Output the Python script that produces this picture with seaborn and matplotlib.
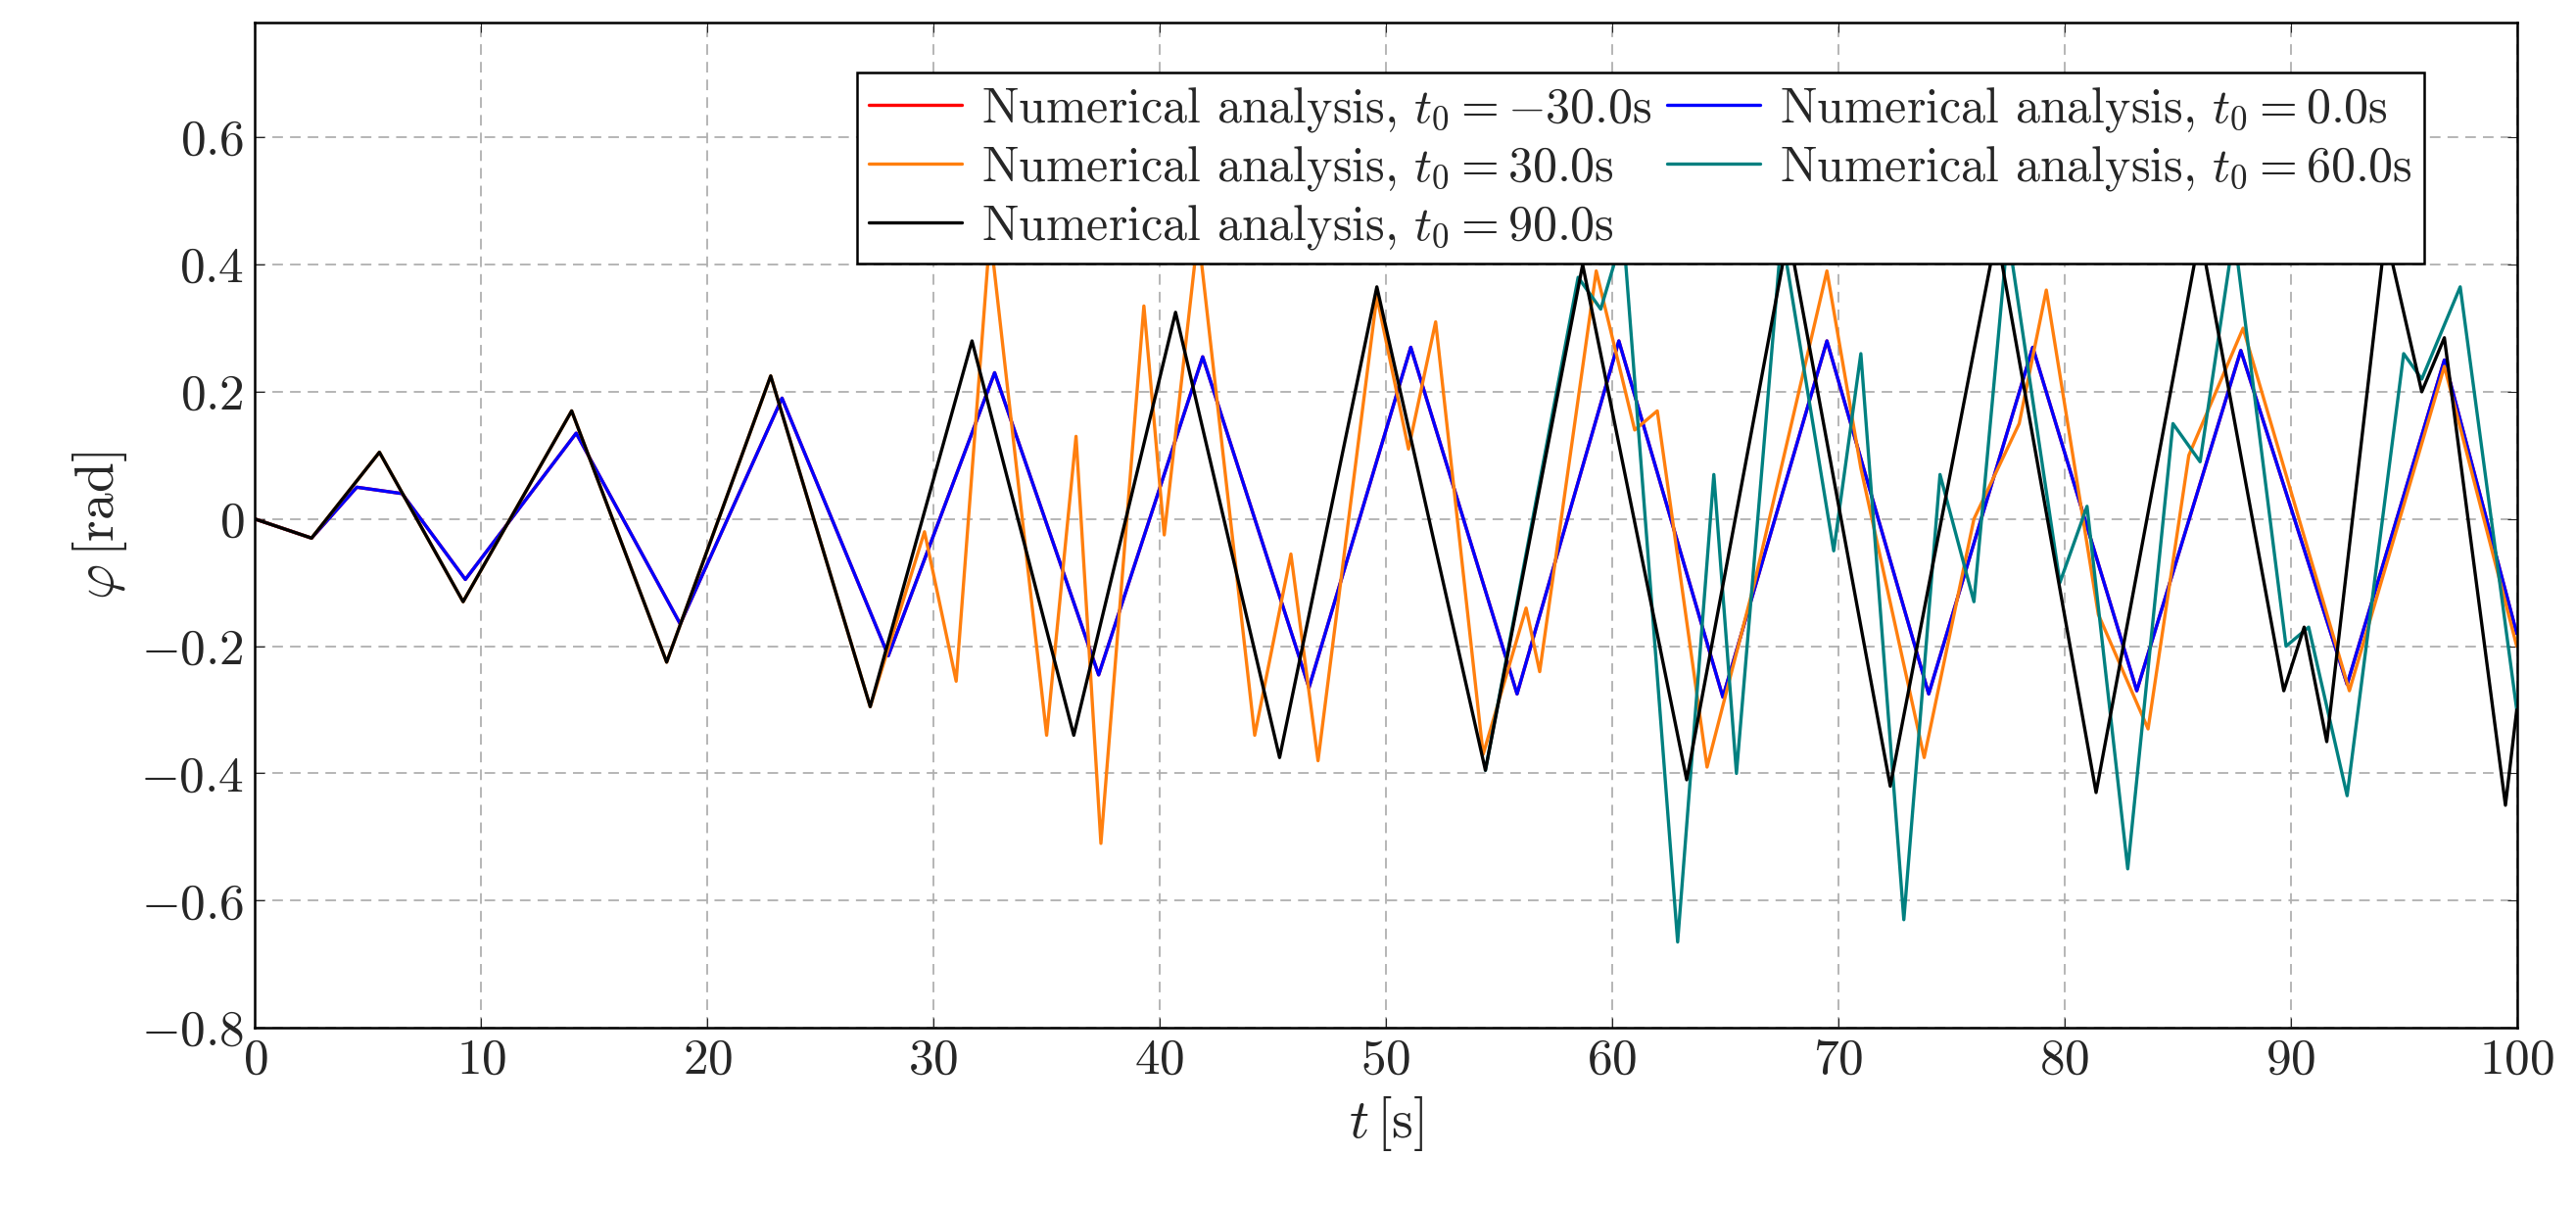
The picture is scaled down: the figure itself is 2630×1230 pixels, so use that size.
import matplotlib
matplotlib.use('Agg')
from matplotlib import pyplot as plt
import pandas as pd
import seaborn as sns

# extrema: (t, phi)
t_blue = [0, 2.5, 4.5, 6.5, 9.3, 14.2, 18.8, 23.3, 28.0, 32.7, 37.3, 41.9, 46.6, 51.1, 55.8,
          60.3, 64.9, 69.5, 74.0, 78.6, 83.2, 87.8, 92.5, 96.8, 100]
phi_blue = [0, -0.03, 0.05, 0.04, -0.095, 0.135, -0.165, 0.19, -0.215, 0.23, -0.245, 0.255, -0.265, 0.27, -0.275,
            0.28, -0.28, 0.28, -0.275, 0.27, -0.27, 0.265, -0.26, 0.25, -0.18]

t_red = t_blue
phi_red = phi_blue

t_black = [0, 2.5, 5.5, 9.2, 14.0, 18.2, 22.8, 27.2, 31.7, 36.2, 40.7, 45.3, 49.6, 54.4, 58.7, 63.3,
           67.8, 72.3, 77.0, 81.4, 86.0, 89.7, 90.6, 91.6, 94.2, 95.8, 96.8, 99.5, 100]
phi_black = [0, -0.03, 0.105, -0.13, 0.17, -0.225, 0.225, -0.295, 0.28, -0.34, 0.325, -0.375, 0.365, -0.395, 0.4, -0.41,
             0.45, -0.42, 0.45, -0.43, 0.45, -0.27, -0.17, -0.35, 0.45, 0.2, 0.285, -0.45, -0.3]

t_orange = [0, 2.5, 5.5, 9.2, 14.0, 18.2, 22.8, 27.2, 29.6, 31.0, 32.5, 35.0, 36.3, 37.4, 39.3, 40.2,
            41.7, 44.2, 45.8, 47.0, 49.6, 51.0, 52.2, 54.3, 56.2, 56.8, 59.3, 61.0, 62.0, 64.2,
            66.3, 69.5, 71.0, 73.8, 76.0, 78.0, 79.2, 81.5, 83.7, 85.5, 87.9, 92.6, 96.8, 100]
phi_orange = [0, -0.03, 0.105, -0.13, 0.17, -0.225, 0.225, -0.295, -0.02, -0.255, 0.45, -0.34, 0.13, -0.51, 0.335, -0.025,
              0.45, -0.34, -0.055, -0.38, 0.35, 0.11, 0.31, -0.37, -0.14, -0.24, 0.39, 0.14, 0.17, -0.39,
              -0.1, 0.39, 0.08, -0.375, 0.0, 0.15, 0.36, -0.15, -0.33, 0.1, 0.3, -0.27, 0.24, -0.2]

t_teal = [54.4, 58.5, 59.5, 60.5, 62.9, 64.5, 65.5, 67.5, 69.8, 71.0, 72.9, 74.5, 76.0, 77.5, 79.8, 81.0,
          82.8, 84.8, 86.0, 87.5, 89.8, 90.8, 92.5, 95.0, 95.8, 97.5, 100]
phi_teal = [-0.395, 0.38, 0.33, 0.45, -0.665, 0.07, -0.4, 0.45, -0.05, 0.26, -0.63, 0.07, -0.13, 0.45, -0.1, 0.02,
            -0.55, 0.15, 0.09, 0.45, -0.2, -0.17, -0.435, 0.26, 0.22, 0.365, -0.3]

series = [
    ('-30.0', t_red, phi_red, 'red'),
    ('0.0', t_blue, phi_blue, 'blue'),
    ('30.0', t_orange, phi_orange, '#ff7f0e'),
    ('60.0', t_teal, phi_teal, 'teal'),
    ('90.0', t_black, phi_black, 'black'),
]

sns.set_style('ticks')
plt.rcParams.update({'font.family': 'serif', 'font.serif': ['cmr10'],
                     'mathtext.fontset': 'cm', 'axes.formatter.use_mathtext': True})

fig = plt.figure(figsize=(26.3, 12.3), dpi=100)
ax = fig.add_axes([0.099, 0.147, 0.878, 0.834])

handles = {}
for t0, t, phi, c in series:
    df = pd.DataFrame({'t': t, 'phi': phi})
    sns.lineplot(data=df, x='t', y='phi', ax=ax, color=c, lw=2.4, sort=False)
    handles[t0] = ax.lines[-1]
    ax.lines[-1].set_label(r'Numerical analysis, $t_0 = %s$s' % t0)

ax.set_xlim(0, 100)
ax.set_ylim(-0.8, 0.78)
ax.set_xticks(range(0, 101, 10))
ax.set_yticks([-0.8, -0.6, -0.4, -0.2, 0, 0.2, 0.4, 0.6])
ax.set_yticklabels([r'$-0.8$', r'$-0.6$', r'$-0.4$', r'$-0.2$', r'$0$', r'$0.2$', r'$0.4$', r'$0.6$'])
ax.set_xticklabels([r'$%d$' % v for v in range(0, 101, 10)])
ax.tick_params(direction='in', top=True, right=True, labelsize=37, length=7, pad=8)
ax.grid(True, ls=(0, (6, 4)), color='#b0b0b0', lw=1.3)
for s in ax.spines.values():
    s.set_linewidth(1.8)
    s.set_color('black')
ax.set_xlabel(r'$t\,$[s]', fontsize=40, labelpad=8)
ax.set_ylabel(r'$\varphi\,$[rad]', fontsize=40, labelpad=8)

order = ['-30.0', '30.0', '90.0', '0.0', '60.0']
leg = ax.legend([handles[k] for k in order], [handles[k].get_label() for k in order],
                ncol=2, loc='upper right', bbox_to_anchor=(0.97, 0.975), fontsize=36,
                frameon=True, fancybox=False, framealpha=1, edgecolor='black',
                handlelength=1.9, handletextpad=0.4, columnspacing=0.3,
                borderpad=0.25, labelspacing=0.2)
leg.get_frame().set_linewidth(1.8)
leg.set_zorder(10)

fig.savefig('out.png', dpi=100)
